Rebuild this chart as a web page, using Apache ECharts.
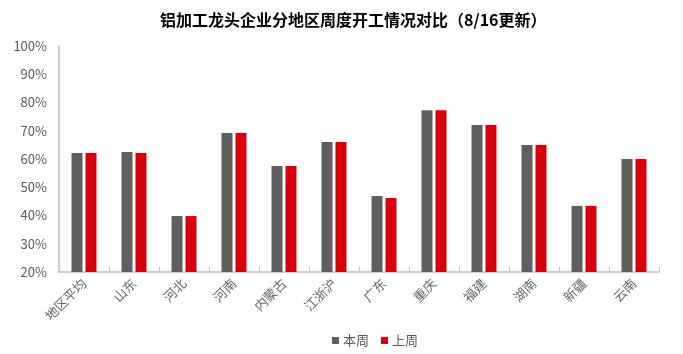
<!DOCTYPE html>
<html>
<head>
<meta charset="utf-8">
<script src="https://cdn.jsdelivr.net/npm/echarts@6/dist/echarts.min.js"></script>
<style>
  html, body { margin: 0; padding: 0; background: #fff; }
  #chart { width: 683px; height: 354px; }
</style>
</head>
<body>
<div id="chart"></div>
<script>
const regions = ['地区平均', '山东', '河北', '河南', '内蒙古', '江浙沪', '广东', '重庆', '福建', '湖南', '新疆', '云南'];
const thisWeek = [62.1, 62.5, 39.8, 69.2, 57.5, 66.0, 46.9, 77.3, 72.0, 65.0, 43.4, 60.0];
const lastWeek = [62.1, 62.1, 39.8, 69.2, 57.5, 66.0, 46.2, 77.3, 72.0, 65.0, 43.4, 60.0];

const font = "'Noto Sans CJK SC', 'Noto Sans', sans-serif";
const chart = echarts.init(document.getElementById('chart'));

chart.setOption({
  backgroundColor: '#fff',
  animation: false,
  textStyle: { fontFamily: font },
  title: {
    text: '铝加工龙头企业分地区周度开工情况对比（8/16更新）',
    left: 155,
    top: 7,
    textStyle: { fontSize: 16, fontWeight: 'bold', color: '#000', fontFamily: font }
  },
  legend: {
    left: 327,
    top: 329,
    itemWidth: 7,
    itemHeight: 7,
    itemGap: 12,
    icon: 'rect',
    textStyle: { color: '#595959', fontSize: 13, fontFamily: font, padding: [0, 0, 0, -1] },
    data: ['本周', '上周']
  },
  grid: { left: 59, right: 24, top: 46, bottom: 82, containLabel: false },
  xAxis: {
    type: 'category',
    data: regions,
    axisLine: { lineStyle: { color: '#bfbfbf', width: 1.5 } },
    axisTick: { show: true, inside: true, length: 5, lineStyle: { color: '#bfbfbf' } },
    axisLabel: { color: '#666666', fontSize: 13, rotate: 45, margin: 9, fontFamily: font }
  },
  yAxis: {
    type: 'value',
    min: 20,
    max: 100,
    interval: 10,
    axisLine: { show: true, lineStyle: { color: '#bfbfbf', width: 1.5 } },
    axisTick: { show: false },
    splitLine: { show: false },
    axisLabel: { color: '#595959', fontSize: 13, margin: 12, formatter: '{value}%', fontFamily: font }
  },
  series: [
    {
      name: '本周',
      type: 'bar',
      data: thisWeek,
      barWidth: 11,
      barGap: '27%',
      itemStyle: { color: '#5f5f5f' }
    },
    {
      name: '上周',
      type: 'bar',
      data: lastWeek,
      barWidth: 11,
      itemStyle: { color: '#d9000d' }
    }
  ]
});
</script>
</body>
</html>
